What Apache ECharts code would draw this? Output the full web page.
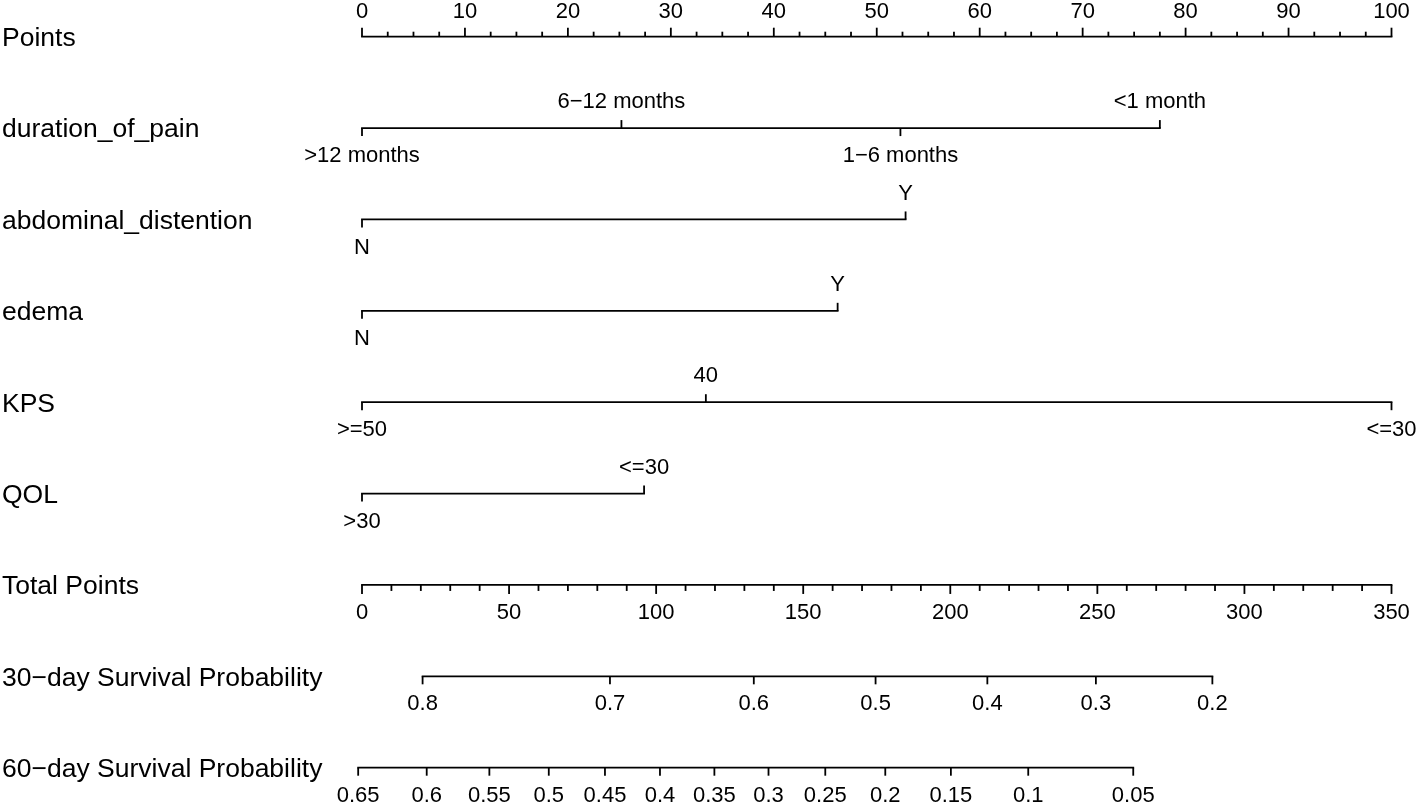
<!DOCTYPE html>
<html><head><meta charset="utf-8">
<script src="https://cdn.jsdelivr.net/npm/echarts@6/dist/echarts.min.js"></script>
<style>html,body{margin:0;padding:0;background:#fff}#c{width:1418px;height:805px}</style>
</head><body><div id="c"></div><script>
// ---- data ----
const rowNames = ['Points','duration_of_pain','abdominal_distention','edema','KPS','QOL','Total Points','30\u2212day Survival Probability','60\u2212day Survival Probability'];
const pointsTicks = [0,10,20,30,40,50,60,70,80,90,100];
const durationLevels = ['>12 months','6\u221212 months','1\u22126 months','<1 month'];
const durationPoints = [0, 25.2, 52.3, 77.5];
const abdominalLevels = ['N','Y'];
const abdominalPoints = [0, 52.8];
const edemaLevels = ['N','Y'];
const edemaPoints = [0, 46.2];
const kpsLevels = ['>=50','40','<=30'];
const kpsPoints = [0, 33.4, 100];
const qolLevels = ['>30','<=30'];
const qolPoints = [0, 27.4];
const totalPointsTicks = [0,50,100,150,200,250,300,350];
const totalPointsMax = 350;
const surv30Labels = ['0.8','0.7','0.6','0.5','0.4','0.3','0.2'];
const surv30Total = [20.6, 84.3, 133.2, 174.6, 212.6, 249.5, 289.1];
const surv60Labels = ['0.65','0.6','0.55','0.5','0.45','0.4','0.35','0.3','0.25','0.2','0.15','0.1','0.05'];
const surv60Total = [-1.3, 22.0, 43.3, 63.5, 82.6, 101.3, 119.8, 138.2, 157.5, 177.9, 200.2, 226.5, 262.2];

// ---- build marks ----
const FONT = '"Liberation Sans", Arial, Helvetica, sans-serif';
const LW = 1.8;
const GRID_LEFT = 362;
const tp2pts = v => v / totalPointsMax * 100;
const lines = [];   // [x0, x1, row]
const ticks = [];   // [x, row, dir, len, labelDist, labelIdx]
const labels = [];

function addTick(x, row, dir, len, dist, text) {
  let idx = -1;
  if (text !== null) { labels.push(text); idx = labels.length - 1; }
  ticks.push([x, row, dir, len, dist, idx]);
}
// Points axis
lines.push([pointsTicks[0], pointsTicks[pointsTicks.length-1], 0]);
pointsTicks.forEach((v, i) => {
  addTick(v, 0, -1, 9, 25, String(v));
  if (i < pointsTicks.length - 1) {
    const step = (pointsTicks[i+1] - v) / 4;
    for (let k = 1; k < 4; k++) addTick(v + k*step, 0, -1, 5, 0, null);
  }
});
// factor rows
function addFactor(levels, pts, row) {
  lines.push([Math.min(...pts), Math.max(...pts), row]);
  pts.forEach((p, i) => {
    const dir = (i % 2 === 0) ? 1 : -1;
    addTick(p, row, dir, 8, dir > 0 ? 28 : 26, levels[i]);
  });
}
addFactor(durationLevels, durationPoints, 1);
addFactor(abdominalLevels, abdominalPoints, 2);
addFactor(edemaLevels, edemaPoints, 3);
addFactor(kpsLevels, kpsPoints, 4);
addFactor(qolLevels, qolPoints, 5);
// Total points
lines.push([tp2pts(totalPointsTicks[0]), tp2pts(totalPointsTicks[totalPointsTicks.length-1]), 6]);
totalPointsTicks.forEach((v, i) => {
  addTick(tp2pts(v), 6, 1, 9, 28, String(v));
  if (i < totalPointsTicks.length - 1) {
    const step = (totalPointsTicks[i+1] - v) / 5;
    for (let k = 1; k < 5; k++) addTick(tp2pts(v + k*step), 6, 1, 6, 0, null);
  }
});
// survival axes
function addProb(lbls, tot, row) {
  const xs = tot.map(tp2pts);
  lines.push([Math.min(...xs), Math.max(...xs), row]);
  xs.forEach((x, i) => addTick(x, row, 1, 8, 28, lbls[i]));
}
addProb(surv30Labels, surv30Total, 7);
addProb(surv60Labels, surv60Total, 8);
const rowData = rowNames.map((n, i) => [0, i]);

const chart = echarts.init(document.getElementById('c'), null, {renderer: 'canvas'});
chart.setOption({
  animation: false,
  backgroundColor: '#fff',
  grid: {left: GRID_LEFT, right: 26.5, top: 36.7, bottom: 37.3, containLabel: false},
  xAxis: {type: 'value', min: 0, max: 100, show: false},
  yAxis: {type: 'value', min: 0, max: 8, interval: 1, inverse: true, show: false},
  series: [
    {
      type: 'custom', clip: false, silent: true, data: rowData,
      renderItem: (params, api) => {
        const p = api.coord([api.value(0), api.value(1)]);
        return {type: 'text', style: {text: rowNames[params.dataIndex], x: p[0] - 360, y: p[1] + 2,
          align: 'left', verticalAlign: 'middle', fill: '#000', fontSize: 26.5, fontFamily: FONT}};
      }
    },
    {
      type: 'custom', clip: false, silent: true, data: lines,
      renderItem: (params, api) => {
        const a = api.coord([api.value(0), api.value(2)]);
        const b = api.coord([api.value(1), api.value(2)]);
        return {type: 'line', shape: {x1: a[0], y1: a[1], x2: b[0], y2: b[1]},
                style: {stroke: '#000', lineWidth: LW, lineCap: 'square'}};
      }
    },
    {
      type: 'custom', clip: false, silent: true, data: ticks,
      renderItem: (params, api) => {
        const p = api.coord([api.value(0), api.value(1)]);
        const dir = api.value(2), len = api.value(3), dist = api.value(4), li = api.value(5);
        const children = [{type: 'line', shape: {x1: p[0], y1: p[1], x2: p[0], y2: p[1] + dir*len},
                           style: {stroke: '#000', lineWidth: LW}}];
        if (li >= 0) {
          children.push({type: 'text', style: {text: labels[li], x: p[0], y: p[1] + dir*dist,
            align: 'center', verticalAlign: 'middle', fill: '#000',
            fontSize: 22, fontFamily: FONT}});
        }
        return {type: 'group', children};
      }
    }
  ]
});
</script></body></html>
